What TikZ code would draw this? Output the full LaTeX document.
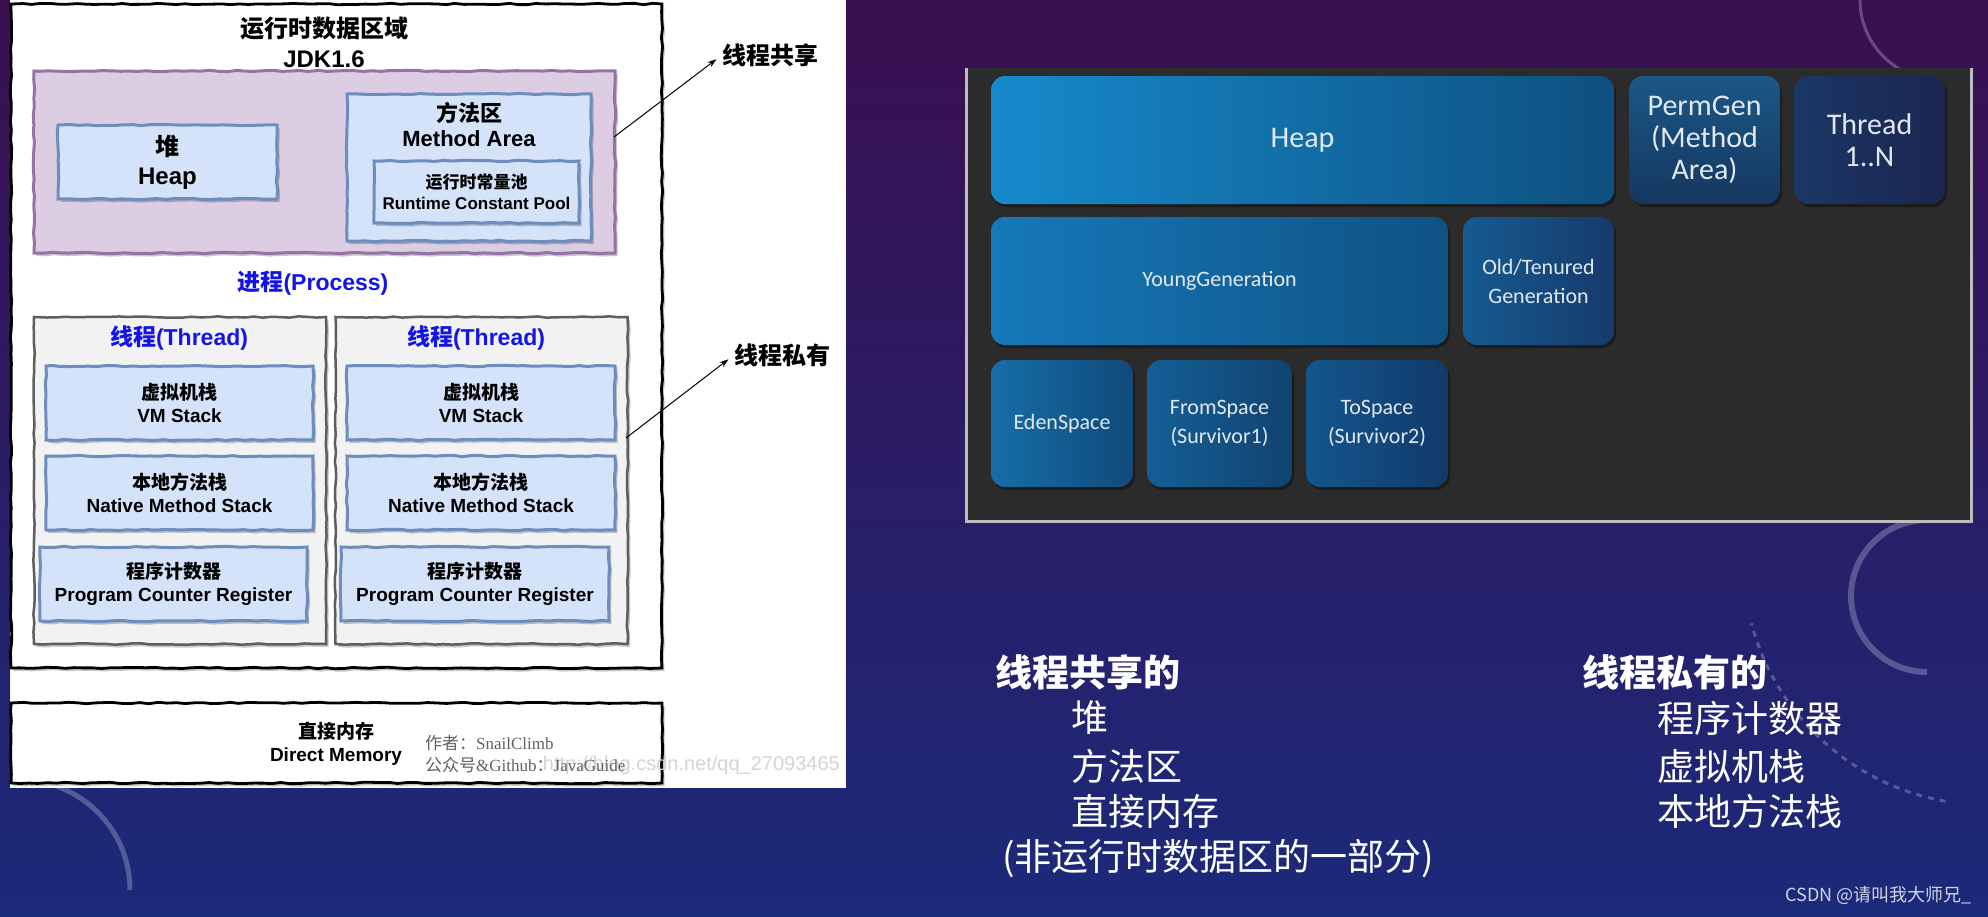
\documentclass[tikz,border=0pt]{standalone}
\usepackage{fontspec}
\setmainfont{Liberation Sans}
\newfontfamily\cjk{Noto Sans CJK SC}
\newfontfamily\calib{Carlito}
\newfontfamily\tnr{Liberation Serif}
\usetikzlibrary{shadows,decorations.pathmorphing,arrows.meta,calc}
\definecolor{bgtop}{HTML}{3A0F50}
\definecolor{bgmid}{HTML}{261F6C}
\definecolor{bgbot}{HTML}{1B2A7A}
\definecolor{decor}{HTML}{B8BEDC}
\definecolor{purFill}{HTML}{DDCDE3}
\definecolor{purEdge}{HTML}{9673A6}
\definecolor{bluFill}{HTML}{D4E3FA}
\definecolor{bluEdge}{HTML}{6C8EBF}
\definecolor{gryFill}{HTML}{F2F2F2}
\definecolor{gryEdge}{HTML}{5E5E5E}
\definecolor{procBlue}{HTML}{1414E6}
\definecolor{panelGray}{HTML}{2B2B2B}
\definecolor{edgeGray}{HTML}{BDBDBD}
\definecolor{boxText}{HTML}{E2E8EF}
\definecolor{heapA}{HTML}{168ACC}
\definecolor{heapB}{HTML}{0E5080}
\definecolor{permA}{HTML}{1B5787}
\definecolor{permB}{HTML}{15375F}
\definecolor{thrA}{HTML}{1B3766}
\definecolor{thrB}{HTML}{1B2550}
\definecolor{youngA}{HTML}{1679BA}
\definecolor{youngB}{HTML}{0F5283}
\definecolor{oldA}{HTML}{165B91}
\definecolor{oldB}{HTML}{163A6B}
\definecolor{edenA}{HTML}{166EA8}
\definecolor{edenB}{HTML}{104A7A}
\definecolor{fromA}{HTML}{145F96}
\definecolor{fromB}{HTML}{114370}
\definecolor{toA}{HTML}{13568E}
\definecolor{toB}{HTML}{123A6A}
\tikzset{
  sk/.style={decorate, decoration={random steps, segment length=9pt, amplitude=0.7pt}},
  shd/.style={drop shadow={shadow xshift=2.5pt, shadow yshift=-3pt, fill=black, opacity=0.22}},
  blkbox/.style={draw=black, line width=2.8pt, fill=white, sk, shd},
  purbox/.style={draw=purEdge, line width=3pt, fill=purFill, sk, shd},
  blubox/.style={draw=bluEdge, line width=3pt, fill=bluFill, sk, shd, align=center, inner sep=2pt, font=\bfseries\fontsize{19}{23}\selectfont},
  grybox/.style={draw=gryEdge, line width=2.5pt, fill=gryFill, sk, shd},
  ltxt/.style={align=center, inner sep=0pt, font=\bfseries\fontsize{19}{23}\selectfont},
  bluelab/.style={inner sep=0pt, text=procBlue, font=\bfseries\fontsize{23}{27}\selectfont},
  sidelab/.style={anchor=west, inner sep=0pt, font=\cjk\bfseries\fontsize{24}{28}\selectfont},
  arr/.style={-{Stealth[length=9pt,width=6pt]}, line width=1pt, shorten >=7pt},
  rbox/.style={rounded corners=14pt, inner sep=0pt, align=center, text=boxText, drop shadow={shadow xshift=2pt, shadow yshift=-3pt, fill=black, opacity=0.35}},
  big/.style={font=\calib\fontsize{30}{32}\selectfont},
  small/.style={font=\calib\fontsize{22}{29}\selectfont},
  btxt/.style={anchor=west, inner sep=0pt, text=white, font=\cjk\fontsize{37}{44}\selectfont},
  bhead/.style={anchor=west, inner sep=0pt, text=white, font=\cjk\bfseries\fontsize{37}{44}\selectfont},
}
\begin{document}
\begin{tikzpicture}[x=1pt,y=-1pt]
\pgfmathsetseed{7}
\useasboundingbox (0,0) rectangle (1988,916);
\shade[top color=bgtop, middle color=bgmid, bottom color=bgbot] (0,0) rectangle (1988,916);
% faint background decoration
\begin{scope}[draw=decor, opacity=0.35]
  \draw[line width=6pt] (1927,596) ++(90:76) arc[start angle=90, end angle=270, radius=76];
  \draw[line width=3pt, dash pattern=on 6pt off 6pt] (1988,560) ++(100:245) arc[start angle=100, end angle=165, radius=245];
  \draw[line width=3pt] (1940,0) ++(90:80) arc[start angle=90, end angle=180, radius=80];
  \draw[line width=5pt] (20,890) ++(270:110) arc[start angle=270, end angle=360, radius=110];
\end{scope}

% ---------------- left diagram ----------------
\fill[white] (10,0) rectangle (846,788);
\node[blkbox, minimum width=651pt, minimum height=664pt] (rt) at (336.5,336) {};
\node[align=center, inner sep=0pt, font=\bfseries\fontsize{24}{30}\selectfont] (title) at (324,42) {{\cjk 运行时数据区域}\\JDK1.6};
\node[purbox, minimum width=581pt, minimum height=182pt] (shared) at (324.5,162) {};
\node[blubox, minimum width=219pt, minimum height=74pt, font=\bfseries\fontsize{24}{29}\selectfont] (heap) at (167.5,162) {{\cjk 堆}\\Heap};
\node[blubox, minimum width=244pt, minimum height=147pt] (ma) at (469,167.5) {};
\node[ltxt, font=\bfseries\fontsize{22}{25}\selectfont] (matxt) at (469,125) {{\cjk 方法区}\\Method Area};
\node[blubox, minimum width=205pt, minimum height=62pt, font=\bfseries\fontsize{17}{21}\selectfont] (rcp) at (476.5,192) {{\cjk 运行时常量池}\\Runtime Constant Pool};
\node[bluelab] (process) at (313,283) {{\cjk 进程}(Process)};

\node[grybox, minimum width=292pt, minimum height=327pt] (th1) at (180,480.5) {};
\node[grybox, minimum width=292pt, minimum height=327pt] (th2) at (481.5,480.5) {};
\node[bluelab] (th1l) at (179,338) {{\cjk 线程}(Thread)};
\node[bluelab] (th2l) at (476,338) {{\cjk 线程}(Thread)};
\node[blubox, minimum width=267pt, minimum height=74pt] (vm1) at (179.5,403) {{\cjk 虚拟机栈}\\VM Stack};
\node[blubox, minimum width=268pt, minimum height=74pt] (vm2) at (481,403) {{\cjk 虚拟机栈}\\VM Stack};
\node[blubox, minimum width=267pt, minimum height=74pt] (nm1) at (179.5,493) {{\cjk 本地方法栈}\\Native Method Stack};
\node[blubox, minimum width=268pt, minimum height=74pt] (nm2) at (481,493) {{\cjk 本地方法栈}\\Native Method Stack};
\node[blubox, minimum width=267pt, minimum height=74pt] (pc1) at (173.5,584) {{\cjk 程序计数器}\\Program Counter Register};
\node[blubox, minimum width=268pt, minimum height=74pt] (pc2) at (475,584) {{\cjk 程序计数器}\\Program Counter Register};

\node[blkbox, minimum width=651pt, minimum height=80pt] (dm) at (336.5,743) {};
\node[ltxt] (dmt) at (336,744) {{\cjk 直接内存}\\Direct Memory};
\node[anchor=east, inner sep=0pt, text=black!17, font=\fontsize{20}{24}\selectfont] (wm) at (840,765) {http://blog.csdn.net/qq\_27093465};
\node[anchor=west, inner sep=0pt, text=black!62, font=\tnr\fontsize{17}{20}\selectfont] (au1) at (425,743) {{\cjk 作者：}SnailClimb};
\node[anchor=west, inner sep=0pt, text=black!62, font=\tnr\fontsize{17}{20}\selectfont] (au2) at (425,765) {{\cjk 公众号}\&Github{\cjk ：}JavaGuide};

\coordinate (s1) at (614,137);
\node[sidelab] (l1) at (722,55) {线程共享};
\draw[arr] (s1) -- (l1.west);
\coordinate (s2) at (626,438);
\node[sidelab] (l2) at (734,355) {线程私有};
\draw[arr] (s2) -- (l2.west);

% ---------------- right diagram ----------------
\fill[panelGray] (965,68) rectangle (1973,523);
\draw[edgeGray, line width=3pt] (966.5,68) -- (966.5,521.5) -- (1971.5,521.5) -- (1971.5,68);
\node[rbox, big, minimum width=623pt, minimum height=128pt, left color=heapA, right color=heapB] (heap2) at (1302.5,140) {Heap};
\node[rbox, big, minimum width=151pt, minimum height=128pt, top color=permA, bottom color=permB] (perm) at (1704.5,140) {PermGen\\(Method\\Area)};
\node[rbox, big, minimum width=151pt, minimum height=128pt, left color=thrA, right color=thrB] (thr) at (1869.5,140) {Thread\\1..N};
\node[rbox, small, minimum width=457pt, minimum height=128pt, left color=youngA, right color=youngB] (young) at (1219.5,281) {YoungGeneration};
\node[rbox, small, minimum width=151pt, minimum height=128pt, left color=oldA, right color=oldB] (old) at (1538.5,281) {Old/Tenured\\Generation};
\node[rbox, small, minimum width=142pt, minimum height=127pt, left color=edenA, right color=edenB] (eden) at (1062,423.5) {EdenSpace};
\node[rbox, small, minimum width=145pt, minimum height=127pt, left color=fromA, right color=fromB] (from) at (1219.5,423.5) {FromSpace\\(Survivor1)};
\node[rbox, small, minimum width=142pt, minimum height=127pt, left color=toA, right color=toB] (to) at (1377,423.5) {ToSpace\\(Survivor2)};

% ---------------- bottom text ----------------
\node[bhead] (sh) at (995,672) {线程共享的};
\node[btxt] (sh1) at (1071,718) {堆};
\node[btxt] (sh2) at (1071,766) {方法区};
\node[btxt] (sh3) at (1071,811) {直接内存};
\node[btxt] (sh4) at (1002,858) {(非运行时数据区的一部分)};
\node[bhead] (pv) at (1582,672) {线程私有的};
\node[btxt] (pv1) at (1657,718) {程序计数器};
\node[btxt] (pv2) at (1657,766) {虚拟机栈};
\node[btxt] (pv3) at (1657,811) {本地方法栈};
\node[anchor=east, inner sep=0pt, text=white!80!bgbot, font=\cjk\fontsize{18}{22}\selectfont] (csdn) at (1972,895) {CSDN @请叫我大师兄\_};
\end{tikzpicture}
\end{document}
